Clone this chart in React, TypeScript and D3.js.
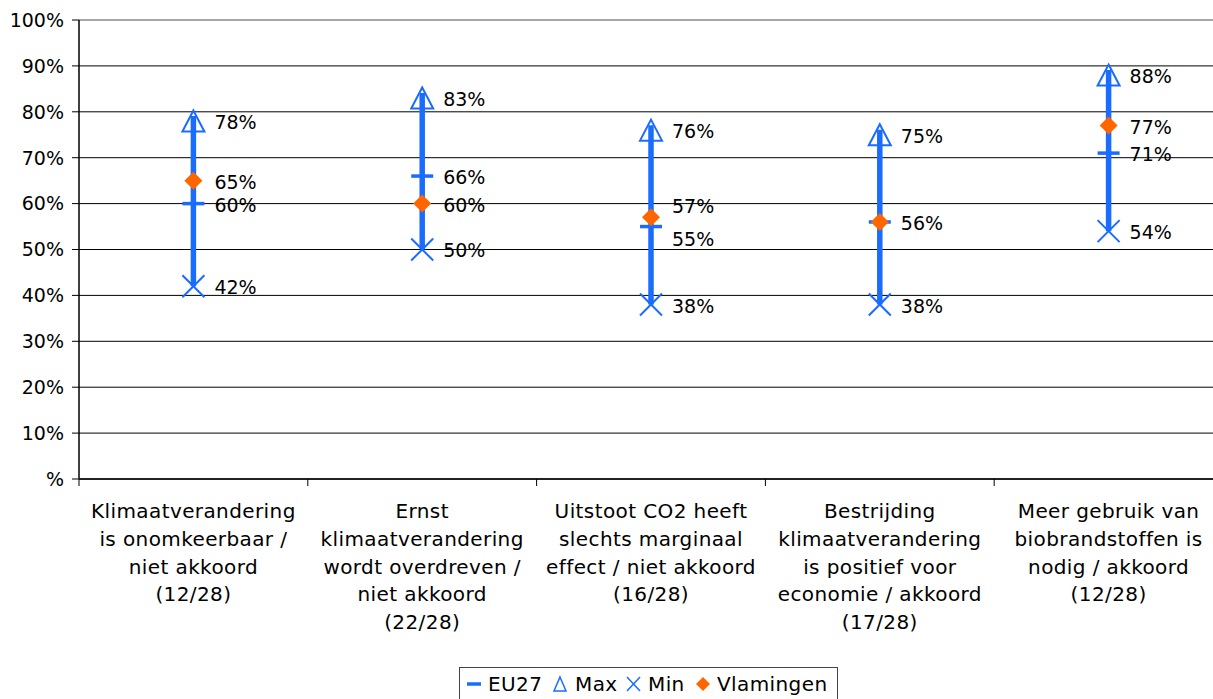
import React from "react";
import * as d3 from "d3";

const categories: string[][] = [
  ["Klimaatverandering", "is onomkeerbaar /", "niet akkoord", "(12/28)"],
  ["Ernst", "klimaatverandering", "wordt overdreven /", "niet akkoord", "(22/28)"],
  ["Uitstoot CO2 heeft", "slechts marginaal", "effect / niet akkoord", "(16/28)"],
  ["Bestrijding", "klimaatverandering", "is positief voor", "economie / akkoord", "(17/28)"],
  ["Meer gebruik van", "biobrandstoffen is", "nodig / akkoord", "(12/28)"],
];
const maxValues = [78, 83, 76, 75, 88];
const minValues = [42, 50, 38, 38, 54];
const eu27Values = [60, 66, 55, 56, 71];
const vlamingenValues = [65, 60, 57, 56, 77];
const yTicks = [0, 10, 20, 30, 40, 50, 60, 70, 80, 90, 100];

const W = 1213;
const H = 699;
const left = 79;
const right = 1223;
const top = 20;
const bottom = 479;
const BLUE = "#1a6cff";
const ORANGE = "#ff6600";
const FONT = "'DejaVu Sans', Verdana, sans-serif";

export default function App() {
  const x = d3.scaleBand<number>().domain(d3.range(categories.length)).range([left, right]).padding(0);
  const y = d3.scaleLinear().domain([0, 100]).range([bottom, top]);
  const fmt = (v: number) => (v === 0 ? "%" : `${v}%`);
  const cx = (i: number) => (x(i) as number) + x.bandwidth() / 2;

  return (
    <svg width={W} height={H} style={{ position: "absolute", left: 0, top: 0 }} fontFamily={FONT}>
      <rect width={W} height={H} fill="white" />
      {yTicks.map((t) => (
        <g key={t}>
          {t > 0 && (
            <line x1={left} x2={W} y1={y(t)} y2={y(t)} stroke={t === 100 ? "#888" : "#000"} strokeWidth={t === 100 ? 1.5 : 1} />
          )}
          <line x1={left - 7} x2={left} y1={y(t)} y2={y(t)} stroke="#000" />
          <text x={64} y={y(t)} dy="0.36em" textAnchor="end" fontSize={19} fill="#000">
            {fmt(t)}
          </text>
        </g>
      ))}
      <line x1={left} x2={left} y1={top} y2={bottom} stroke="#000" strokeWidth={1.5} />
      <line x1={left} x2={W} y1={bottom} y2={bottom} stroke="#222" strokeWidth={2} />
      {d3.range(categories.length).map((i) => {
        const xx = x(i) as number;
        return <line key={i} x1={xx} x2={xx} y1={bottom} y2={bottom + 7} stroke="#000" />;
      })}
      {categories.map((lines, i) => (
        <text key={i} x={cx(i)} y={511} textAnchor="middle" fontSize={20} letterSpacing={0.4} fill="#000">
          {lines.map((l, j) => (
            <tspan key={j} x={cx(i)} dy={j === 0 ? "0.36em" : 27.7}>
              {l}
            </tspan>
          ))}
        </text>
      ))}
      {categories.map((_, i) => {
        const c = cx(i);
        const yMax = y(maxValues[i]);
        const yMin = y(minValues[i]);
        const yEu = y(eu27Values[i]);
        const yVl = y(vlamingenValues[i]);
        const lx = c + 21;
        // label positions: push EU27 / Vlamingen labels apart if they collide
        let lEu = yEu;
        let lVl = yVl;
        if (eu27Values[i] !== vlamingenValues[i] && Math.abs(yEu - yVl) < 22) {
          const mid = (yEu + yVl) / 2;
          const upEu = yEu < yVl;
          lEu = mid + (upEu ? -16.5 : 16.5);
          lVl = mid + (upEu ? 16.5 : -16.5);
        }
        return (
          <g key={i}>
            <path
              d={`M${c},${yMax - 10.5} L${c + 11},${yMax + 10.5} L${c - 11},${yMax + 10.5} Z`}
              fill="white"
              stroke={BLUE}
              strokeWidth={2}
            />
            <line x1={c} x2={c} y1={yMax - 5} y2={yMin} stroke={BLUE} strokeWidth={5.5} />
            <path d={`M${c - 11},${yMin - 11} L${c + 11},${yMin + 11} M${c + 11},${yMin - 11} L${c - 11},${yMin + 11}`} stroke={BLUE} strokeWidth={2} />
            <line x1={c - 11} x2={c + 11} y1={yEu} y2={yEu} stroke={BLUE} strokeWidth={3.5} />
            <path d={`M${c},${yVl - 9} L${c + 9},${yVl} L${c},${yVl + 9} L${c - 9},${yVl} Z`} fill={ORANGE} />
            <text x={lx} y={yMax} dy="0.42em" fontSize={19} fill="#000">{`${maxValues[i]}%`}</text>
            <text x={lx} y={yMin} dy="0.42em" fontSize={19} fill="#000">{`${minValues[i]}%`}</text>
            {eu27Values[i] !== vlamingenValues[i] && (
              <text x={lx} y={lEu} dy="0.42em" fontSize={19} fill="#000">{`${eu27Values[i]}%`}</text>
            )}
            <text x={lx} y={lVl} dy="0.42em" fontSize={19} fill="#000">{`${vlamingenValues[i]}%`}</text>
          </g>
        );
      })}
      <g>
        <rect x={459.5} y={667.5} width={378} height={40} fill="white" stroke="#444" strokeWidth={1} />
        <line x1={467} x2={481} y1={684} y2={684} stroke={BLUE} strokeWidth={3.5} />
        <text x={488} y={684} dy="0.36em" fontSize={20} letterSpacing={0.4}>EU27</text>
        <path d="M560,677 L566,691 L554,691 Z" fill="none" stroke={BLUE} strokeWidth={1.5} />
        <text x={575} y={684} dy="0.36em" fontSize={20} letterSpacing={0.4}>Max</text>
        <path d="M627,677 L640,691 M640,677 L627,691" stroke={BLUE} strokeWidth={1.5} />
        <text x={648} y={684} dy="0.36em" fontSize={20} letterSpacing={0.4}>Min</text>
        <path d="M703,677 L710,684 L703,691 L696,684 Z" fill={ORANGE} />
        <text x={717} y={684} dy="0.36em" fontSize={20} letterSpacing={0.4}>Vlamingen</text>
      </g>
    </svg>
  );
}
